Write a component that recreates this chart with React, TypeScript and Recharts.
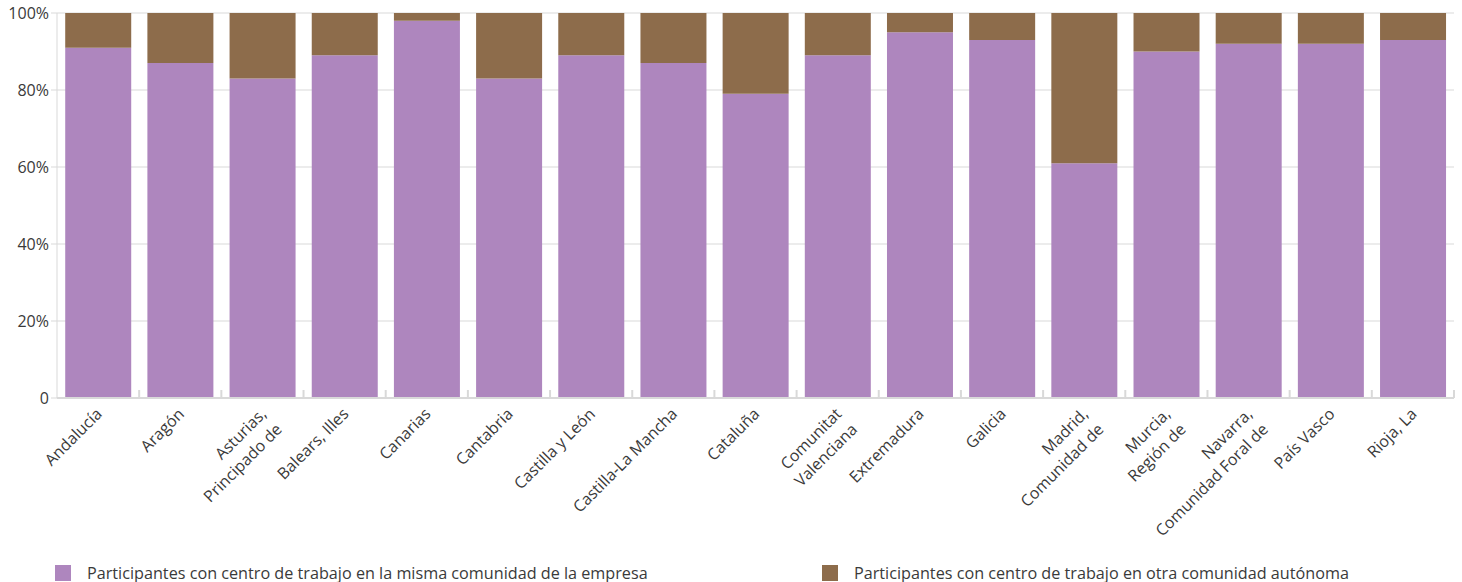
import React from "react";
import { Bar, BarChart, CartesianGrid, XAxis, YAxis, Legend } from "recharts";

const regiones = [
  "Andalucía",
  "Aragón",
  "Asturias,\nPrincipado de",
  "Balears, Illes",
  "Canarias",
  "Cantabria",
  "Castilla y León",
  "Castilla-La Mancha",
  "Cataluña",
  "Comunitat\nValenciana",
  "Extremadura",
  "Galicia",
  "Madrid,\nComunidad de",
  "Murcia,\nRegión de",
  "Navarra,\nComunidad Foral de",
  "País Vasco",
  "Rioja, La",
];

const mismaComunidad = [91, 87, 83, 89, 98, 83, 89, 87, 79, 89, 95, 93, 61, 90, 92, 92, 93];
const otraComunidad = [9, 13, 17, 11, 2, 17, 11, 13, 21, 11, 5, 7, 39, 10, 8, 8, 7];

const yTicks = [0, 20, 40, 60, 80, 100];

const seriesNames = [
  "Participantes con centro de trabajo en la misma comunidad de la empresa",
  "Participantes con centro de trabajo en otra comunidad autónoma",
];

const PURPLE = "#ae86be";
const BROWN = "#8d6c4b";
const GRID = "#d9d9d9";
const TEXT = "#3a3a3a";
const FONT = "'Open Sans', sans-serif";

const W = 1462;
const H = 582;
const Y_AXIS_W = 57;
const MARGIN = { top: 13, right: 8, left: 0, bottom: 0 };
const LEGEND_H = 30;
const X_AXIS_H = 154;

const data = regiones.map((name, i) => ({
  name,
  misma: mismaComunidad[i],
  otra: otraComunidad[i],
}));

const band = (W - Y_AXIS_W - MARGIN.right - MARGIN.left) / regiones.length;

function RegionTick(props: any) {
  const { x, y, payload } = props;
  const lines = String(payload.value).split("\n");
  return (
    <g>
      <line x1={x + band / 2} x2={x + band / 2} y1={y} y2={y - 8} stroke={GRID} strokeWidth={2} />
      <g transform={`translate(${x + 1},${y + 13}) rotate(-45)`}>
        <text textAnchor="end" fill={TEXT} fontSize={16} fontFamily={FONT}>
          {lines.map((l, i) => (
            <tspan key={i} x={0} dy={i === 0 ? "0.35em" : 22}>
              {l}
            </tspan>
          ))}
        </text>
      </g>
    </g>
  );
}

function LegendBox() {
  const items = [
    { left: 55, color: PURPLE, label: seriesNames[0] },
    { left: 822, color: BROWN, label: seriesNames[1] },
  ];
  return (
    <div style={{ position: "relative", height: LEGEND_H, width: W }}>
      {items.map((it) => (
        <div
          key={it.label}
          style={{
            position: "absolute",
            left: it.left,
            top: 13,
            height: 16,
            display: "flex",
            alignItems: "center",
            fontFamily: FONT,
            fontSize: 16.2,
            color: TEXT,
            whiteSpace: "nowrap",
          }}
        >
          <span style={{ width: 16, height: 16, background: it.color, display: "inline-block", marginRight: 16 }} />
          {it.label}
        </div>
      ))}
    </div>
  );
}

export default function App() {
  return (
    <div style={{ position: "absolute", left: 0, top: 0, width: W, height: H, background: "#fff" }}>
      <BarChart width={W} height={H} data={data} margin={MARGIN} barCategoryGap="10%">
        <CartesianGrid vertical={false} stroke={GRID} />
        <XAxis
          dataKey="name"
          interval={0}
          height={X_AXIS_H}
          tickLine={false}
          tickSize={0}
          tickMargin={0}
          axisLine={{ stroke: GRID, strokeWidth: 2 }}
          tick={<RegionTick />}
        />
        <YAxis
          width={Y_AXIS_W}
          domain={[0, 100]}
          ticks={yTicks}
          interval={0}
          tickFormatter={(v: number) => (v === 0 ? "0" : `${v}%`)}
          axisLine={{ stroke: GRID }}
          tickLine={{ stroke: GRID }}
          tickSize={6}
          tickMargin={2}
          tick={{ fill: TEXT, fontSize: 16, fontFamily: FONT }}
        />
        <Legend
          verticalAlign="bottom"
          height={LEGEND_H}
          wrapperStyle={{ left: 0, width: W }}
          content={() => <LegendBox />}
        />
        <Bar dataKey="misma" name={seriesNames[0]} stackId="a" fill={PURPLE} isAnimationActive={false} />
        <Bar dataKey="otra" name={seriesNames[1]} stackId="a" fill={BROWN} isAnimationActive={false} />
      </BarChart>
    </div>
  );
}
